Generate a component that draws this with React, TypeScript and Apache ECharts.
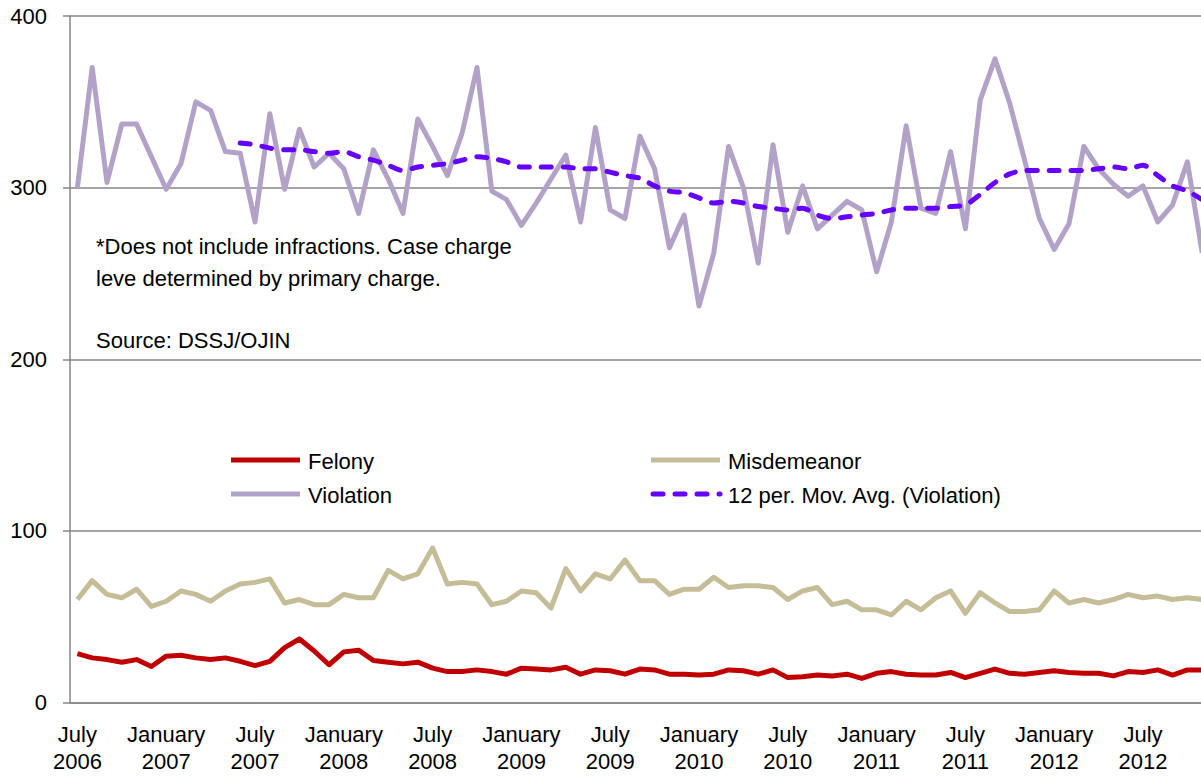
import React, { useEffect, useRef } from "react";
import * as echarts from "echarts";

const monthNames = ["January", "February", "March", "April", "May", "June", "July", "August", "September", "October", "November", "December"];
const startYear = 2006;
const startMonth = 6; // July
const monthCount = 77; // July 2006 .. November 2012

const categories: string[] = Array.from({ length: monthCount }, (_, k) => {
  const m = (startMonth + k) % 12;
  const y = startYear + Math.floor((startMonth + k) / 12);
  return `${monthNames[m]}\n${y}`;
});

const felony = [
  28.5, 26, 25, 23.5, 25, 21, 27, 27.5, 26, 25, 26, 24, 21.5, 24, 32, 37, 30, 22, 29.5, 30.5,
  24.5, 23.5, 22.5, 23.5, 20, 18, 18, 19, 18, 16.5, 20, 19.5, 19, 20.5, 16.5, 19, 18.5, 16.5, 19.5, 19,
  16.5, 16.5, 16, 16.5, 19, 18.5, 16.5, 19, 14.5, 15, 16, 15.5, 16.5, 14, 17, 18, 16.5, 16, 16, 17.5,
  14.5, 17, 19.5, 17, 16.5, 17.5, 18.5, 17.5, 17, 17, 15.5, 18, 17.5, 19, 16, 19, 19,
];

const misdemeanor = [
  60, 71, 63, 61, 66, 56, 59, 65, 63, 59, 65, 69, 70, 72, 58, 60, 57, 57, 63, 61,
  61, 77, 72, 75, 90, 69, 70, 69, 57, 59, 65, 64, 55, 78, 65, 75, 72, 83, 71, 71,
  63, 66, 66, 73, 67, 68, 68, 67, 60, 65, 67, 57, 59, 54, 54, 51, 59, 54, 61, 65,
  52, 64, 58, 53, 53, 54, 65, 58, 60, 58, 60, 63, 61, 62, 60, 61, 60,
];

const violation = [
  300, 370, 303, 337, 337, 318, 299, 314, 350, 345, 321, 320, 280, 343, 299, 334, 312, 320, 311, 285,
  322, 305, 285, 340, 324, 307, 332, 370, 298, 293, 278, 291, 305, 319, 280, 335, 287, 282, 330, 311,
  265, 284, 231, 262, 324, 300, 256, 325, 274, 301, 276, 284, 292, 287, 251, 280, 336, 288, 285, 321,
  276, 351, 375, 349, 316, 282, 264, 279, 324, 311, 302, 295, 301, 280, 290, 315, 262,
];

const movingAvg: (number | null)[] = [
  null, null, null, null, null, null, null, null, null, null, null,
  326, 325, 323, 322, 322, 321, 320, 321, 318, 316, 313, 310, 312, 313, 314, 316, 318, 317, 315,
  312, 312, 312, 312, 311, 311, 309, 307, 305.5, 301, 298, 297, 294, 291, 292, 291, 289, 288, 287, 288,
  284, 282, 283, 284, 285, 287, 288, 288, 288, 289, 290, 296, 303, 308, 310, 310, 310, 310, 310, 311,
  312, 311, 313, 307, 301, 298, 293,
];

const yTicks = { min: 0, max: 400, interval: 100 };

const seriesNames = ["Felony", "Misdemeanor", "Violation", "12 per. Mov. Avg. (Violation)"];
const seriesColors = ["#C00000", "#C4BD97", "#B3A2C7", "#6600FF"];

const noteLines = [
  "*Does not include infractions. Case charge",
  "leve determined by primary charge.",
  "Source: DSSJ/OJIN",
];

const FONT = "'Liberation Sans', Arial, sans-serif";

export default function App() {
  const ref = useRef<HTMLDivElement>(null);

  useEffect(() => {
    if (!ref.current) return;
    const chart = echarts.init(ref.current, null, { renderer: "svg" });

    const catWidth = 14.8;
    const gridLeft = 70;
    const gridTop = 16;
    const gridHeight = 686.5;
    const dash = [10, 12];

    const legendItems = [
      { x: 231, y: 460, i: 0 },
      { x: 651, y: 460, i: 1 },
      { x: 231, y: 494, i: 2 },
      { x: 651, y: 494, i: 3 },
    ];

    const graphic: any[] = [];
    legendItems.forEach(({ x, y, i }) => {
      graphic.push({
        type: "line",
        shape: { x1: i === 3 ? x + 2 : x, y1: y, x2: x + 69, y2: y },
        style: {
          stroke: seriesColors[i],
          lineWidth: 5,
          lineCap: i === 3 ? "round" : "butt",
          lineDash: i === 3 ? dash : null,
        },
      });
      graphic.push({
        type: "text",
        x: x + 77,
        y: y + 1,
        style: {
          text: seriesNames[i],
          font: `22px ${FONT}`,
          fill: "#000",
          verticalAlign: "middle",
          align: "left",
        },
      });
    });
    const noteY = [246, 278, 340];
    noteLines.forEach((t, i) => {
      graphic.push({
        type: "text",
        x: 96,
        y: noteY[i],
        style: {
          text: t,
          font: `22px ${FONT}`,
          fill: "#000",
          verticalAlign: "middle",
          align: "left",
        },
      });
    });

    const lineStyleBase = { width: 5, join: "round" as const };

    chart.setOption({
      animation: false,
      grid: {
        left: gridLeft,
        top: gridTop,
        width: catWidth * monthCount,
        height: gridHeight,
        containLabel: false,
      },
      xAxis: {
        type: "category",
        data: categories,
        boundaryGap: true,
        axisLine: { lineStyle: { color: "#868686", width: 1.5 } },
        axisTick: { interval: 5, length: 7, lineStyle: { color: "#868686", width: 1.5 } },
        axisLabel: {
          interval: 5,
          margin: 18,
          color: "#000",
          fontSize: 22,
          lineHeight: 27,
          fontFamily: FONT,
          align: "center",
        },
        splitLine: { show: false },
      },
      yAxis: {
        type: "value",
        min: yTicks.min,
        max: yTicks.max,
        interval: yTicks.interval,
        axisLine: { show: true, lineStyle: { color: "#868686", width: 1.5 } },
        axisTick: { show: true, length: 7, lineStyle: { color: "#868686", width: 1.5 } },
        axisLabel: { margin: 23, color: "#000", fontSize: 22, fontFamily: FONT },
        splitLine: { show: true, lineStyle: { color: "#868686", width: 1.5 } },
      },
      series: [
        {
          name: seriesNames[0],
          type: "line",
          data: felony,
          symbol: "none",
          lineStyle: { ...lineStyleBase, color: seriesColors[0] },
          z: 3,
        },
        {
          name: seriesNames[1],
          type: "line",
          data: misdemeanor,
          symbol: "none",
          lineStyle: { ...lineStyleBase, color: seriesColors[1] },
          z: 3,
        },
        {
          name: seriesNames[2],
          type: "line",
          data: violation,
          symbol: "none",
          lineStyle: { ...lineStyleBase, color: seriesColors[2] },
          z: 3,
        },
        {
          name: seriesNames[3],
          type: "line",
          data: movingAvg,
          symbol: "none",
          smooth: 0.3,
          lineStyle: { width: 5, color: seriesColors[3], type: dash, cap: "round", join: "round" },
          z: 4,
        },
      ],
      graphic,
    });

    return () => chart.dispose();
  }, []);

  return (
    <div style={{ position: "fixed", left: 0, top: 0, width: 1201, height: 779, overflow: "hidden", background: "#fff" }}>
      <div ref={ref} style={{ width: 1260, height: 779 }} />
    </div>
  );
}
